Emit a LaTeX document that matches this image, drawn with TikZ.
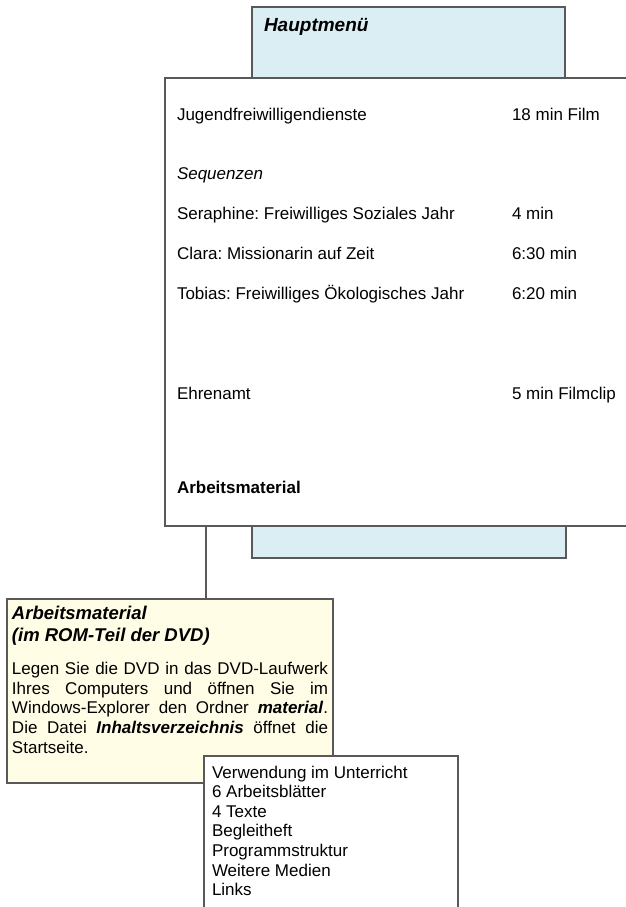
\documentclass[tikz,border=0pt]{standalone}
\usepackage{fontspec}
\setmainfont{Liberation Sans}
\definecolor{edge}{HTML}{595959}
\definecolor{paleblue}{HTML}{DAEEF3}
\definecolor{paleyellow}{HTML}{FFFDE6}
\begin{document}
\frenchspacing
\begin{tikzpicture}[x=1pt,y=-1pt,
  boxstyle/.style={draw=edge,line width=1.2pt,rectangle,inner sep=0pt,outer sep=0pt,anchor=north west},
  txt/.style={anchor=base west,inner sep=0pt,outer sep=0pt,font=\fontsize{17pt}{19.6pt}\selectfont},
  head/.style={txt,font=\fontsize{18.5pt}{21pt}\selectfont\bfseries\itshape}]
\useasboundingbox (0,0) rectangle (626,907);
\clip (0,0) rectangle (626,907);
% blue boxes behind the main box
\node[boxstyle,fill=paleblue,minimum width=313pt,minimum height=80pt] (top) at (252,7) {};
\node[boxstyle,fill=paleblue,minimum width=314pt,minimum height=40pt] (bottom) at (252,518) {};
% main box
\node[boxstyle,fill=white,minimum width=480pt,minimum height=448pt] (main) at (165,78) {};
% top label
\node[head,font=\fontsize{19pt}{21pt}\selectfont\bfseries\itshape] (hm) at (264,32) {Hauptmenü};
% main entries
\node[txt] (j1) at (177,120) {Jugendfreiwilligendienste};
\node[txt] (j2) at (512,120) {18 min Film};
\node[txt,font=\fontsize{17pt}{19.6pt}\selectfont\itshape] (seq) at (177,179) {Sequenzen};
\node[txt] (s1) at (177,219) {Seraphine: Freiwilliges Soziales Jahr};
\node[txt] (s2) at (512,219) {4 min};
\node[txt] (c1) at (177,259) {Clara: Missionarin auf Zeit};
\node[txt] (c2) at (512,259) {6:30 min};
\node[txt] (t1) at (177,299) {Tobias: Freiwilliges Ökologisches Jahr};
\node[txt] (t2) at (512,299) {6:20 min};
\node[txt] (e1) at (177,399) {Ehrenamt};
\node[txt] (e2) at (512,399) {5 min Filmclip};
\node[txt,font=\fontsize{17pt}{19.6pt}\selectfont\bfseries] (am) at (177,493) {Arbeitsmaterial};
% yellow box
\node[boxstyle,fill=paleyellow,minimum width=326pt,minimum height=184pt] (yellow) at (7,599) {};
\coordinate (link) at (206,526);
\draw[edge,line width=1.2pt] (link) -- (link |- yellow.north);
\node[head] (y1) at (12,619) {Arbeitsmaterial};
\node[head] (y2) at (12,641) {(im ROM-Teil der DVD)};
\node[txt] (p1) at (12,674) {\makebox[316pt][s]{Legen Sie die DVD in das DVD-Laufwerk}};
\node[txt] (p2) at (12,694) {\makebox[316pt][s]{Ihres Computers und öffnen Sie im}};
\node[txt] (p3) at (12,713) {\makebox[316pt][s]{Windows-Explorer den Ordner \textbf{\textit{material}}.}};
\node[txt] (p4) at (12,733) {\makebox[316pt][s]{Die Datei \textbf{\textit{Inhaltsverzeichnis}} öffnet die}};
\node[txt] (p5) at (12,753) {Startseite.};
% list box
\node[boxstyle,fill=white,minimum width=254pt,minimum height=170pt] (list) at (204,756) {};
\node[txt] (l1) at (212,778) {Verwendung im Unterricht};
\node[txt] (l2) at (212,797.6) {6 Arbeitsblätter};
\node[txt] (l3) at (212,817.2) {4 Texte};
\node[txt] (l4) at (212,836.8) {Begleitheft};
\node[txt] (l5) at (212,856.4) {Programmstruktur};
\node[txt] (l6) at (212,876) {Weitere Medien};
\node[txt] (l7) at (212,895.6) {Links};
\end{tikzpicture}
\end{document}
